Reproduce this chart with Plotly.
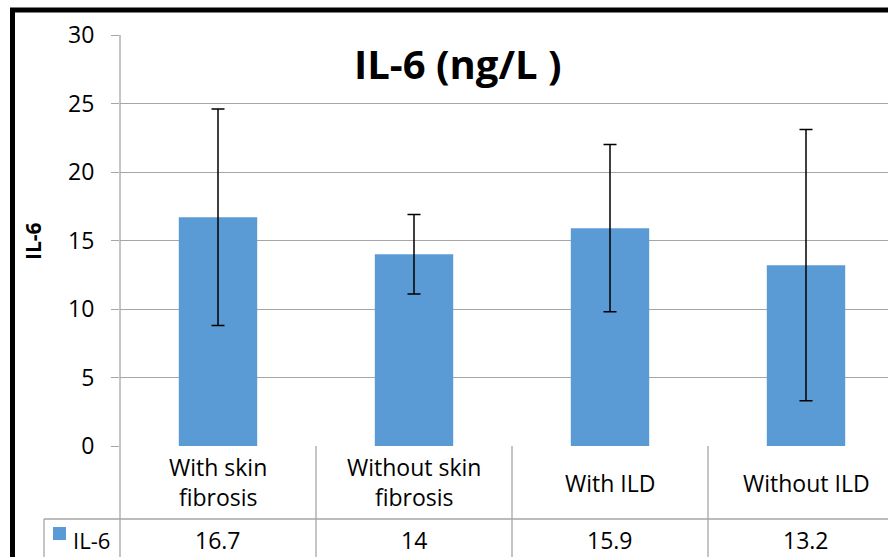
import plotly.graph_objects as go

categories = ["With skin\nfibrosis", "Without skin\nfibrosis", "With ILD", "Without ILD"]
values = [16.7, 14, 15.9, 13.2]
errors = [7.9, 2.9, 6.1, 9.9]
value_labels = ["16.7", "14", "15.9", "13.2"]
series_name = "IL-6"
title_text = "IL-6 (ng/L )"
y_ticks = [0, 5, 10, 15, 20, 25, 30]

W, H = 888, 557
L, R, T, B = 120, 0, 35, 111
PW, PH = W - L - R, H - T - B
BAR = "#5B9BD5"
GRID = "#A6A6A6"
FONT = "Open Sans"


def px(x):
    return (x - L) / PW


def py(y):
    return (H - B - y) / PH


xs = list(range(len(categories)))
cat_px = 196.0
x_max = -0.5 + PW / cat_px

fig = go.Figure()
fig.add_trace(go.Bar(
    x=xs, y=values, width=0.4, marker=dict(color=BAR, line=dict(width=0)),
    error_y=dict(type="data", array=errors, visible=True, color="black",
                 thickness=1.5, width=6.5),
    name=series_name, showlegend=False,
))

shapes = []
# outer black border (left and top)
shapes.append(dict(type="line", xref="paper", yref="paper", x0=px(12.5), x1=px(12.5),
                   y0=py(10), y1=py(565), line=dict(color="black", width=5)))
shapes.append(dict(type="line", xref="paper", yref="paper", x0=px(10), x1=px(895),
                   y0=py(10), y1=py(10), line=dict(color="black", width=5)))
# y axis line extended through the table
shapes.append(dict(type="line", xref="paper", yref="paper", x0=0, x1=0,
                   y0=py(35), y1=py(565), line=dict(color=GRID, width=1.3)))
# table horizontal line
shapes.append(dict(type="line", xref="paper", yref="paper", x0=px(44), x1=px(895),
                   y0=py(519), y1=py(519), line=dict(color=GRID, width=1.3)))
# table left vertical
shapes.append(dict(type="line", xref="paper", yref="paper", x0=px(44), x1=px(44),
                   y0=py(519), y1=py(565), line=dict(color=GRID, width=1.3)))
# category separators
for i in range(len(categories) - 1):
    shapes.append(dict(type="line", xref="x", yref="paper", x0=i + 0.5, x1=i + 0.5,
                       y0=0, y1=py(565), line=dict(color=GRID, width=1.3)))
# legend key
shapes.append(dict(type="rect", xref="paper", yref="paper", x0=px(53), x1=px(66),
                   y0=py(540), y1=py(527), fillcolor=BAR, line=dict(width=0)))

annotations = []
annotations.append(dict(text="<b>" + title_text + "</b>", xref="paper", yref="paper",
                        x=px(457), y=py(63), showarrow=False, xanchor="center", yanchor="middle",
                        font=dict(family=FONT, size=40, color="black")))
annotations.append(dict(text="<b>" + series_name + "</b>", xref="paper", yref="paper",
                        x=px(33), y=py(241), showarrow=False, textangle=-90,
                        xanchor="center", yanchor="middle",
                        font=dict(family=FONT, size=21, color="black")))
for i, c in enumerate(categories):
    lines = c.split("\n")
    if len(lines) == 1:
        ys = [483]
    else:
        ys = [467, 497]
    for ln, yy in zip(lines, ys):
        annotations.append(dict(text=ln, xref="x", yref="paper", x=i, y=py(yy),
                                showarrow=False, xanchor="center", yanchor="middle",
                                font=dict(family=FONT, size=23, color="black")))
    annotations.append(dict(text=value_labels[i], xref="x", yref="paper", x=i, y=py(540),
                            showarrow=False, xanchor="center", yanchor="middle",
                            font=dict(family=FONT, size=23, color="black")))
annotations.append(dict(text=series_name, xref="paper", yref="paper", x=px(71), y=py(540),
                        showarrow=False, xanchor="left", yanchor="middle",
                        font=dict(family=FONT, size=22, color="black")))

fig.update_layout(
    width=W, height=H,
    margin=dict(l=L, r=R, t=T, b=B, pad=0),
    paper_bgcolor="white", plot_bgcolor="white",
    font=dict(family=FONT, size=22, color="black"),
    xaxis=dict(range=[-0.5, x_max], showticklabels=False, ticks="", showgrid=False,
               zeroline=False, showline=False, fixedrange=True),
    yaxis=dict(range=[0, 30], tickvals=y_ticks, ticks="outside", ticklen=8,
               tickcolor=GRID, tickwidth=1.3, showgrid=True, gridcolor=GRID, gridwidth=1.3,
               zeroline=False, showline=False, ticklabelstandoff=12,
               tickfont=dict(family=FONT, size=23, color="black")),
    shapes=shapes, annotations=annotations,
    showlegend=False,
)

fig.write_html(
    "out.html",
    config={"displayModeBar": False},
    post_script="document.body.style.margin='0';document.body.style.overflow='hidden';",
)
